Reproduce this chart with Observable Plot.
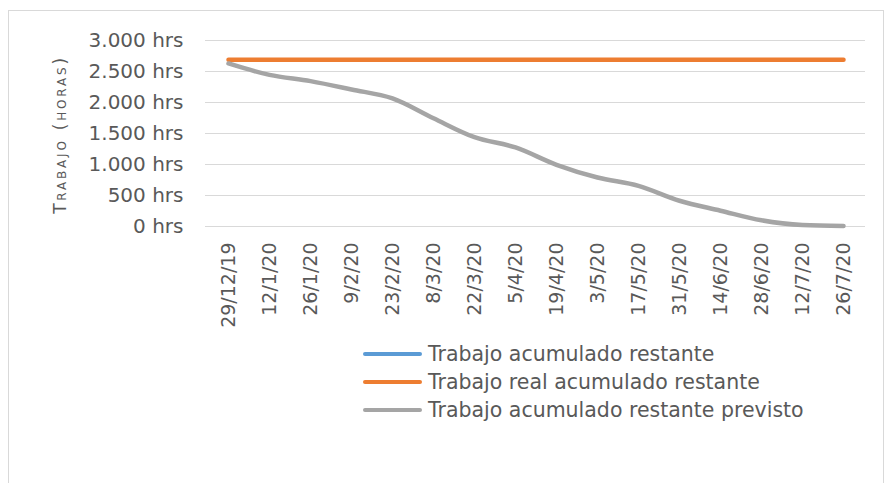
<!DOCTYPE html>
<html>
<head>
<meta charset="utf-8">
<script src="https://cdn.jsdelivr.net/npm/d3@7"></script>
<script src="https://cdn.jsdelivr.net/npm/@observablehq/plot@0.6"></script>
<style>
  body { margin: 0; background: #fff; font-family: "DejaVu Sans", sans-serif; }
  #frame { position: absolute; left: 8px; top: 10px; width: 876px; height: 490px; border: 1px solid #d9d9d9; box-sizing: border-box; }
  #chart { position: absolute; left: 0; top: 0; }
  #legend { position: absolute; left: 363px; top: 340px; color: #595959; font-size: 20.5px; }
  .row { display: flex; align-items: center; height: 28px; }
  .sw { width: 59px; height: 4px; border-radius: 2px; margin-right: 6px; }
  .ylab { font-variant: small-caps; letter-spacing: 2.8px; }
</style>
</head>
<body>
<div id="frame"></div>
<div id="chart"></div>
<div id="legend"></div>
<script>
const fechas = ["29/12/19","12/1/20","26/1/20","9/2/20","23/2/20","8/3/20","22/3/20","5/4/20","19/4/20","3/5/20","17/5/20","31/5/20","14/6/20","28/6/20","12/7/20","26/7/20"];
const trabajoAcumuladoRestante = []; // sin valores visibles
const trabajoRealRestante = [2690,2690,2690,2690,2690,2690,2690,2690,2690,2690,2690,2690,2690,2690,2690,2690];
const trabajoPrevisto = [2630,2445,2345,2210,2065,1745,1440,1275,995,790,655,415,255,100,25,10];
const yTicks = [0,500,1000,1500,2000,2500,3000];
const series = [
  {name: "Trabajo acumulado restante", color: "#5B9BD5", values: trabajoAcumuladoRestante},
  {name: "Trabajo real acumulado restante", color: "#ED7D31", values: trabajoRealRestante},
  {name: "Trabajo acumulado restante previsto", color: "#A5A5A5", values: trabajoPrevisto}
];
const rows = series.flatMap(s => s.values.map((v, i) => ({serie: s.name, fecha: fechas[i], valor: v})));
const fmt = d => d3.format(",")(d).replace(/,/g, ".") + " hrs";

const chart = Plot.plot({
  width: 890,
  height: 340,
  marginLeft: 205,
  marginRight: 25,
  marginTop: 40,
  marginBottom: 114,
  style: {fontFamily: "DejaVu Sans, sans-serif", fontSize: "20px", color: "#595959", background: "transparent"},
  x: {type: "point", domain: fechas, padding: 0.5},
  y: {domain: [0, 3000]},
  marks: [
    Plot.gridY(yTicks, {stroke: "#d9d9d9", strokeOpacity: 1, strokeWidth: 1}),
    Plot.axisY({ticks: yTicks, tickFormat: fmt, tickSize: 0, tickPadding: 22, label: null, fontSize: 20}),
    Plot.axisX({tickRotate: -90, tickSize: 0, tickPadding: 16, label: null, fontSize: 19}),
    Plot.text(["Trabajo (horas)"], {frameAnchor: "left", textAnchor: "middle", dx: -145, dy: 1, rotate: -90, fontSize: 17, fill: "#595959", className: "ylab"}),
    ...series.map(s => Plot.line(rows.filter(r => r.serie === s.name), {
      x: "fecha", y: "valor", stroke: s.color, strokeWidth: 4.5, curve: "monotone-x", strokeLinecap: "round"
    }))
  ]
});
document.getElementById("chart").appendChild(chart);

const legend = document.getElementById("legend");
for (const s of series) {
  const row = document.createElement("div");
  row.className = "row";
  const sw = document.createElement("div");
  sw.className = "sw";
  sw.style.background = s.color;
  const t = document.createElement("span");
  t.textContent = s.name;
  row.appendChild(sw);
  row.appendChild(t);
  legend.appendChild(row);
}
</script>
</body>
</html>
